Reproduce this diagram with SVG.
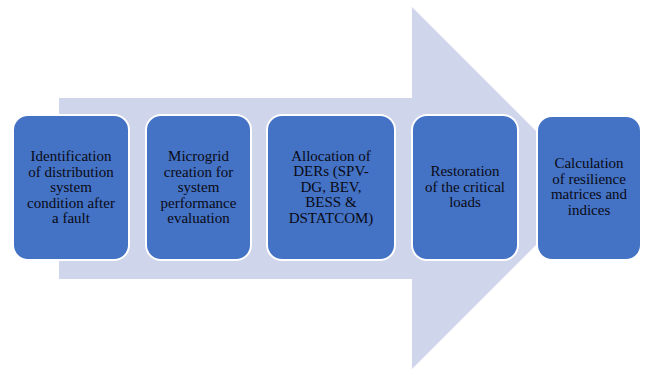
<svg xmlns="http://www.w3.org/2000/svg" width="645" height="369" viewBox="0 0 645 369">
<style>
.box{fill:#4472C4;stroke:#fff;stroke-width:2}
.t{font-family:"Liberation Serif","Times New Roman",serif;font-size:15px;fill:#0a0a14;text-anchor:middle}
</style>
<rect width="645" height="369" fill="#fff"/>
<g id="arrow"><polygon points="59,98 412,98 412,7 593,188 412,369 412,279 59,279" fill="#CFD5EA"/></g>
<g id="connectors"></g>
<g id="n1"><rect class="box" x="13" y="115" width="116" height="145" rx="15"/>
<text class="t"><tspan x="71" y="161">Identification</tspan><tspan x="71" y="176.5">of distribution</tspan><tspan x="71" y="192">system</tspan><tspan x="71" y="207.5">condition after</tspan><tspan x="71" y="223">a fault</tspan></text></g>
<g id="n2"><rect class="box" x="146" y="115" width="105" height="145" rx="15"/>
<text class="t"><tspan x="198.5" y="161">Microgrid</tspan><tspan x="198.5" y="176.5">creation for</tspan><tspan x="198.5" y="192">system</tspan><tspan x="198.5" y="207.5">performance</tspan><tspan x="198.5" y="223">evaluation</tspan></text></g>
<g id="n3"><rect class="box" x="267" y="115" width="128" height="145" rx="15"/>
<text class="t"><tspan x="331" y="160.5">Allocation of</tspan><tspan x="331" y="176">DERs (SPV-</tspan><tspan x="331" y="191.5">DG, BEV,</tspan><tspan x="331" y="207">BESS &amp;</tspan><tspan x="331" y="222.5">DSTATCOM)</tspan></text></g>
<g id="n4"><rect class="box" x="412" y="115" width="106" height="145" rx="15"/>
<text class="t"><tspan x="465" y="176">Restoration</tspan><tspan x="465" y="191.5">of the critical</tspan><tspan x="465" y="207">loads</tspan></text></g>
<g id="n5"><rect class="box" x="537" y="116" width="104" height="144" rx="15" stroke="none"/>
<text class="t"><tspan x="589" y="168">Calculation</tspan><tspan x="589" y="183.5">of resilience</tspan><tspan x="589" y="199">matrices and</tspan><tspan x="589" y="214.5">indices</tspan></text></g>
</svg>
